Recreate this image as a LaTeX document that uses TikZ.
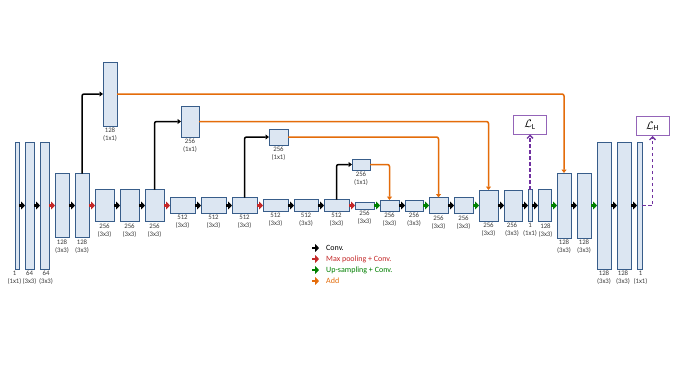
\documentclass[tikz,border=0pt]{standalone}
\usepackage{amsmath}
\usepackage{fontspec}
\setmainfont{Carlito}
\usepackage{tikz}
\usetikzlibrary{arrows.meta,positioning}
\definecolor{BlockFill}{RGB}{220,230,242}
\definecolor{BlockEdge}{RGB}{56,93,138}
\definecolor{Ink}{RGB}{60,60,60}
\definecolor{PoolRed}{RGB}{196,40,40}
\definecolor{UpGreen}{RGB}{0,128,0}
\definecolor{AddOrange}{RGB}{228,108,10}
\definecolor{LossPurple}{RGB}{112,48,160}
\tikzset{
  blk/.style={draw=BlockEdge, fill=BlockFill, line width=0.9pt, inner sep=0pt, outer sep=0pt},
  sz/.style 2 args={minimum width=#1pt, minimum height=#2pt},
  lbl/.style={align=center, font=\fontsize{6.8}{8}\selectfont, text=Ink, inner sep=0.3pt},
  legtxt/.style={anchor=west, font=\fontsize{8}{9}\selectfont, inner sep=1pt},
  conv/.style={-{Triangle[length=3.8pt,width=7.5pt]}, draw=black, line width=2.8pt},
  pool/.style={conv, draw=PoolRed},
  upconv/.style={conv, draw=UpGreen},
  skiparr/.style={-{Triangle[length=3.5pt,width=5pt]}, draw=black, line width=1.5pt, rounded corners=2pt},
  addarr/.style={skiparr, draw=AddOrange},
  lossbox/.style={draw=LossPurple!75, line width=0.8pt, fill=white, minimum width=33pt,
    minimum height=19pt, inner sep=1pt, font=\fontsize{11}{12}\selectfont},
  lossarr/.style={-{Straight Barb[length=3pt,width=6pt]}, draw=LossPurple, line width=1.3pt,
    dash pattern=on 3.5pt off 2.5pt},
}
\begin{document}
\begin{tikzpicture}[x=1pt, y=-1pt]
\fill[white] (0,0) rectangle (675,380);
\useasboundingbox (0,0) rectangle (675,380);

% ================= main path =================
\node[blk, sz={4}{127}] (c1) at (17,205.5) {};
\node[blk, sz={9}{127}, right=6pt of c1] (c2) {};
\node[blk, sz={9}{127}, right=6pt of c2] (c3) {};
\node[blk, sz={14}{64}, right=6pt of c3] (c4) {};
\node[blk, sz={14}{64}, right=6pt of c4] (c5) {};
\node[blk, sz={19}{32}, right=6pt of c5] (c6) {};
\node[blk, sz={19}{32}, right=6pt of c6] (c7) {};
\node[blk, sz={19}{32}, right=6pt of c7] (c8) {};
\node[blk, sz={25}{16}, right=6pt of c8] (c9) {};
\node[blk, sz={25}{16}, right=6pt of c9] (c10) {};
\node[blk, sz={25}{16}, right=6pt of c10] (c11) {};
\node[blk, sz={25}{12}, right=6pt of c11] (c12) {};
\node[blk, sz={24}{12}, right=6pt of c12] (c13) {};
\node[blk, sz={25}{12}, right=6pt of c13] (c14) {};
\node[blk, sz={19}{7}, right=6pt of c14] (c15) {};
\node[blk, sz={19}{11}, right=6pt of c15] (c16) {};
\node[blk, sz={18}{11}, right=6pt of c16] (c17) {};
\node[blk, sz={19}{16}, right=6pt of c17] (c18) {};
\node[blk, sz={19}{16}, right=6pt of c18] (c19) {};
\node[blk, sz={19}{31}, right=6pt of c19] (c20) {};
\node[blk, sz={18}{31}, right=6pt of c20] (c21) {};
\node[blk, sz={4}{32}, right=6pt of c21] (c22) {};
\node[blk, sz={13}{32}, right=6pt of c22] (c23) {};
\node[blk, sz={14}{65}, right=6pt of c23] (c24) {};
\node[blk, sz={14}{65}, right=6pt of c24] (c25) {};
\node[blk, sz={14}{127}, right=6pt of c25] (c26) {};
\node[blk, sz={14}{127}, right=6pt of c26] (c27) {};
\node[blk, sz={5}{127}, right=6pt of c27] (c28) {};

\foreach \n/\t/\dx in {c1/{1\\(1x1)}/-2.5, c2/{64\\(3x3)}/0, c3/{64\\(3x3)}/1.5, c4/{128\\(3x3)}/0,
    c5/{128\\(3x3)}/0, c6/{256\\(3x3)}/0, c7/{256\\(3x3)}/0, c8/{256\\(3x3)}/0, c9/{512\\(3x3)}/0,
    c10/{512\\(3x3)}/0, c11/{512\\(3x3)}/0, c12/{512\\(3x3)}/0, c13/{512\\(3x3)}/0,
    c14/{512\\(3x3)}/0, c15/{256\\(3x3)}/0, c16/{256\\(3x3)}/0, c17/{256\\(3x3)}/0,
    c18/{256\\(3x3)}/0, c19/{256\\(3x3)}/0, c20/{256\\(3x3)}/0, c21/{256\\(3x3)}/-1,
    c22/{1\\(1x1)}/0, c23/{128\\(3x3)}/1, c24/{128\\(3x3)}/0, c25/{128\\(3x3)}/0,
    c26/{128\\(3x3)}/0, c27/{128\\(3x3)}/-1, c28/{1\\(1x1)}/1}
  \node[lbl, below=1.5pt of \n, xshift=\dx pt] (\n-l) {\t};

% arrows along the path
\foreach \a/\b/\s in {c1/c2/conv, c2/c3/conv, c3/c4/pool, c4/c5/conv, c5/c6/pool, c6/c7/conv,
    c7/c8/conv, c8/c9/pool, c9/c10/conv, c10/c11/conv, c11/c12/pool, c12/c13/conv, c13/c14/conv,
    c14/c15/pool, c15/c16/upconv, c16/c17/conv, c17/c18/upconv, c18/c19/conv, c19/c20/upconv,
    c20/c21/conv, c21/c22/conv, c22/c23/conv, c23/c24/upconv, c24/c25/conv, c25/c26/upconv,
    c26/c27/conv, c27/c28/conv}
  \draw[\s] (\a) -- (\b);

% ================= side branches (1x1) =================
\node[blk, sz={14}{64}] (s1) at (110,94) {};
\node[blk, sz={18}{31}] (s2) at (190,121.5) {};
\node[blk, sz={19}{16}] (s3) at (278.5,137) {};
\node[blk, sz={18}{11}] (s4) at (361,164.5) {};
\node[lbl, below=1.5pt of s1] (s1-l) {128\\(1x1)};
\node[lbl, below=1.5pt of s2] (s2-l) {256\\(1x1)};
\node[lbl, below=1.5pt of s3] (s3-l) {256\\(1x1)};
\node[lbl, below=1.5pt of s4] (s4-l) {256\\(1x1)};

\draw[skiparr] (c5.north) |- (s1.west);
\draw[skiparr] (c8.north) |- (s2.west);
\draw[skiparr] (c11.north) |- (s3.west);
\draw[skiparr] (c14.north) |- (s4.west);

\draw[addarr] (s1.east) -| (c24.north);
\draw[addarr] (s2.east) -| (c20.north);
\draw[addarr] (s3.east) -| (c18.north);
\draw[addarr] (s4.east) -| (c16.north);

% ================= losses =================
\node[lossbox, above=55pt of c22] (lossL) {$\mathcal{L}_{\text{L}}$};
\node[lossbox, above=6pt of c28, xshift=13pt] (lossH) {$\mathcal{L}_{\text{H}}$};
\draw[lossarr] (c22.north) -- (lossL.south);
\draw[lossarr] (c28.east) -| (lossH.south);

% ================= legend =================
\node[legtxt, text=black] (lgconv) at (325,248) {Conv.};
\node[legtxt, text=PoolRed] (lgpool) at (325,259) {Max pooling + Conv.};
\node[legtxt, text=UpGreen] (lgup) at (325,270) {Up-sampling + Conv.};
\node[legtxt, text=AddOrange] (lgadd) at (325,281) {Add};
\draw[conv] ([xshift=-13pt]lgconv.west) -- ([xshift=-6pt]lgconv.west);
\draw[pool] ([xshift=-13pt]lgpool.west) -- ([xshift=-6pt]lgpool.west);
\draw[upconv] ([xshift=-13pt]lgup.west) -- ([xshift=-6pt]lgup.west);
\draw[conv, draw=AddOrange] ([xshift=-13pt]lgadd.west) -- ([xshift=-6pt]lgadd.west);

\end{tikzpicture}
\end{document}
